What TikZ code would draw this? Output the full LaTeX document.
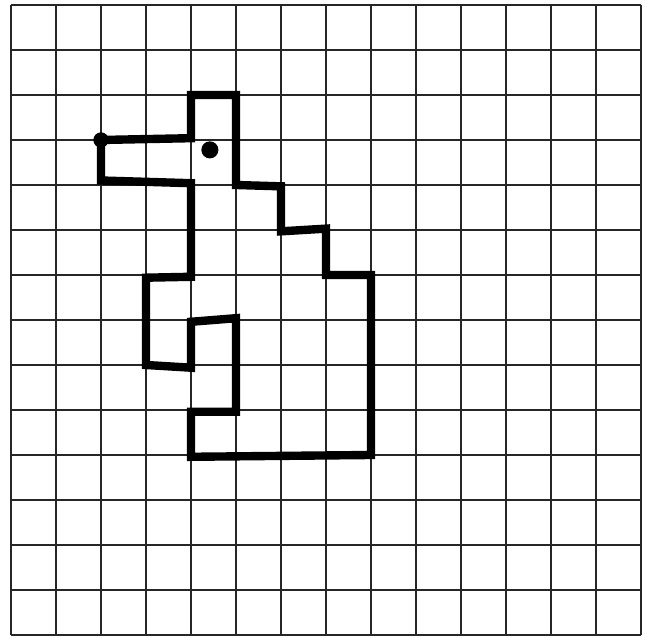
\documentclass[tikz,border=0pt]{standalone}
\begin{document}
\begin{tikzpicture}[x=1cm, y=1cm]
    \tikzset{
        gridline/.style={line width=1.6pt, black!85},
        outline/.style={line width=5.3pt, black, line join=miter},
        dotmark/.style={fill=black}
    }
    \useasboundingbox (-0.244, -0.044) rectangle (14.089, 14.111);

    % 方格纸
    \draw[gridline] (0, 0) grid (14, 14);

    % 图形轮廓
    \draw[outline] (2, 11) -- (4, 11.04) -- (4, 12) -- (5, 12) -- (5, 10)
        -- (6, 9.97) -- (6, 8.97) -- (7, 9.03) -- (7, 8) -- (8, 8)
        -- (8, 4) -- (4, 3.96) -- (4, 4.96) -- (5, 4.96) -- (5, 7.04)
        -- (4, 6.96) -- (4, 5.94) -- (3, 6) -- (3, 7.94) -- (4, 7.96)
        -- (4, 10.04) -- (2, 10.1) -- cycle;

    % 两个圆点
    \fill[dotmark] (2, 11) circle (0.17);
    \fill[dotmark] (4.42, 10.78) circle (0.19);
\end{tikzpicture}
\end{document}
